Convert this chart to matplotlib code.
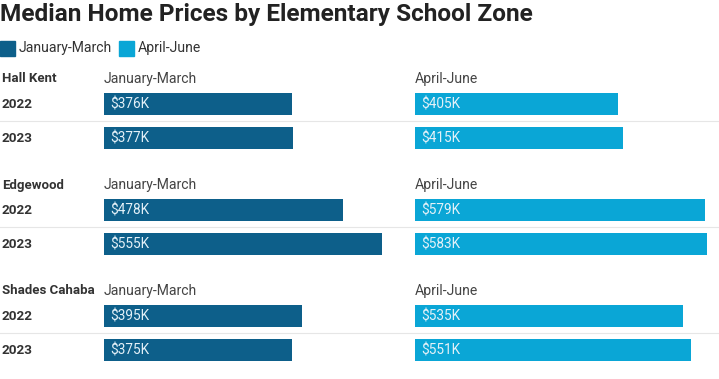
import matplotlib.pyplot as plt

# data
schools = ["Hall Kent", "Edgewood", "Shades Cahaba"]
years = ["2022", "2023"]
jan_mar = [[376, 377], [478, 555], [395, 375]]
apr_jun = [[405, 415], [579, 583], [535, 551]]
series = ["January-March", "April-June"]
colors = ["#0d5f8a", "#0aa6d6"]

W, H = 719, 379
plt.rcParams['font.family'] = ['Roboto', 'DejaVu Sans']

fig = plt.figure(figsize=(W / 100, H / 100), dpi=100, facecolor='white')

def fx(x):
    return x / W

def fy(y):
    return 1 - y / H

# title + legend
fig.text(fx(0), fy(15), "Median Home Prices by Elementary School Zone", fontsize=17.6,
         fontweight='bold', color='#222222', va='center', ha='left')
lx = 0
for name, c in zip(series, colors):
    fig.patches.append(plt.Rectangle((fx(lx), fy(56)), 15 / W, 15 / H, color=c,
                                     transform=fig.transFigure))
    fig.text(fx(lx + 19), fy(48), name, fontsize=10.1, color='#333333', va='center', ha='left')
    lx += 119

# one axes per column, y in pixels
col_x = [104, 415]
col_w = 304
group_top = 79
group_step = 106
axes = []
for cx in col_x:
    ax = fig.add_axes([fx(cx), 0, col_w / W, 1])
    ax.set_xlim(0, 608)
    ax.set_ylim(H, 0)
    ax.axis('off')
    axes.append(ax)

for g, school in enumerate(schools):
    top = group_top + group_step * g
    fig.text(fx(2), fy(top), school, fontsize=9.5, fontweight='bold', color='#333333',
             va='center', ha='left')
    for k, (ax, vals) in enumerate(zip(axes, [jan_mar, apr_jun])):
        fig.text(fx(col_x[k]), fy(top), series[k], fontsize=10.1, color='#444444',
                 va='center', ha='left')
        for r, yr in enumerate(years):
            yc = top + 25 + 34 * r
            ax.barh(yc, vals[g][r], height=22, color=colors[k])
            ax.text(12, yc, "$%dK" % vals[g][r], fontsize=9.8, color='#e4f1f8',
                    va='center', ha='left')
    for r, yr in enumerate(years):
        fig.text(fx(2), fy(top + 25 + 34 * r), yr, fontsize=9.7, fontweight='bold',
                 color='#333333', va='center', ha='left')
    # thin separator between the two years
    fig.add_artist(plt.Line2D([0, 1], [fy(top + 42)] * 2, color='#e6e6e6', lw=0.8))

fig.savefig("out.png", dpi=100, facecolor='white')
